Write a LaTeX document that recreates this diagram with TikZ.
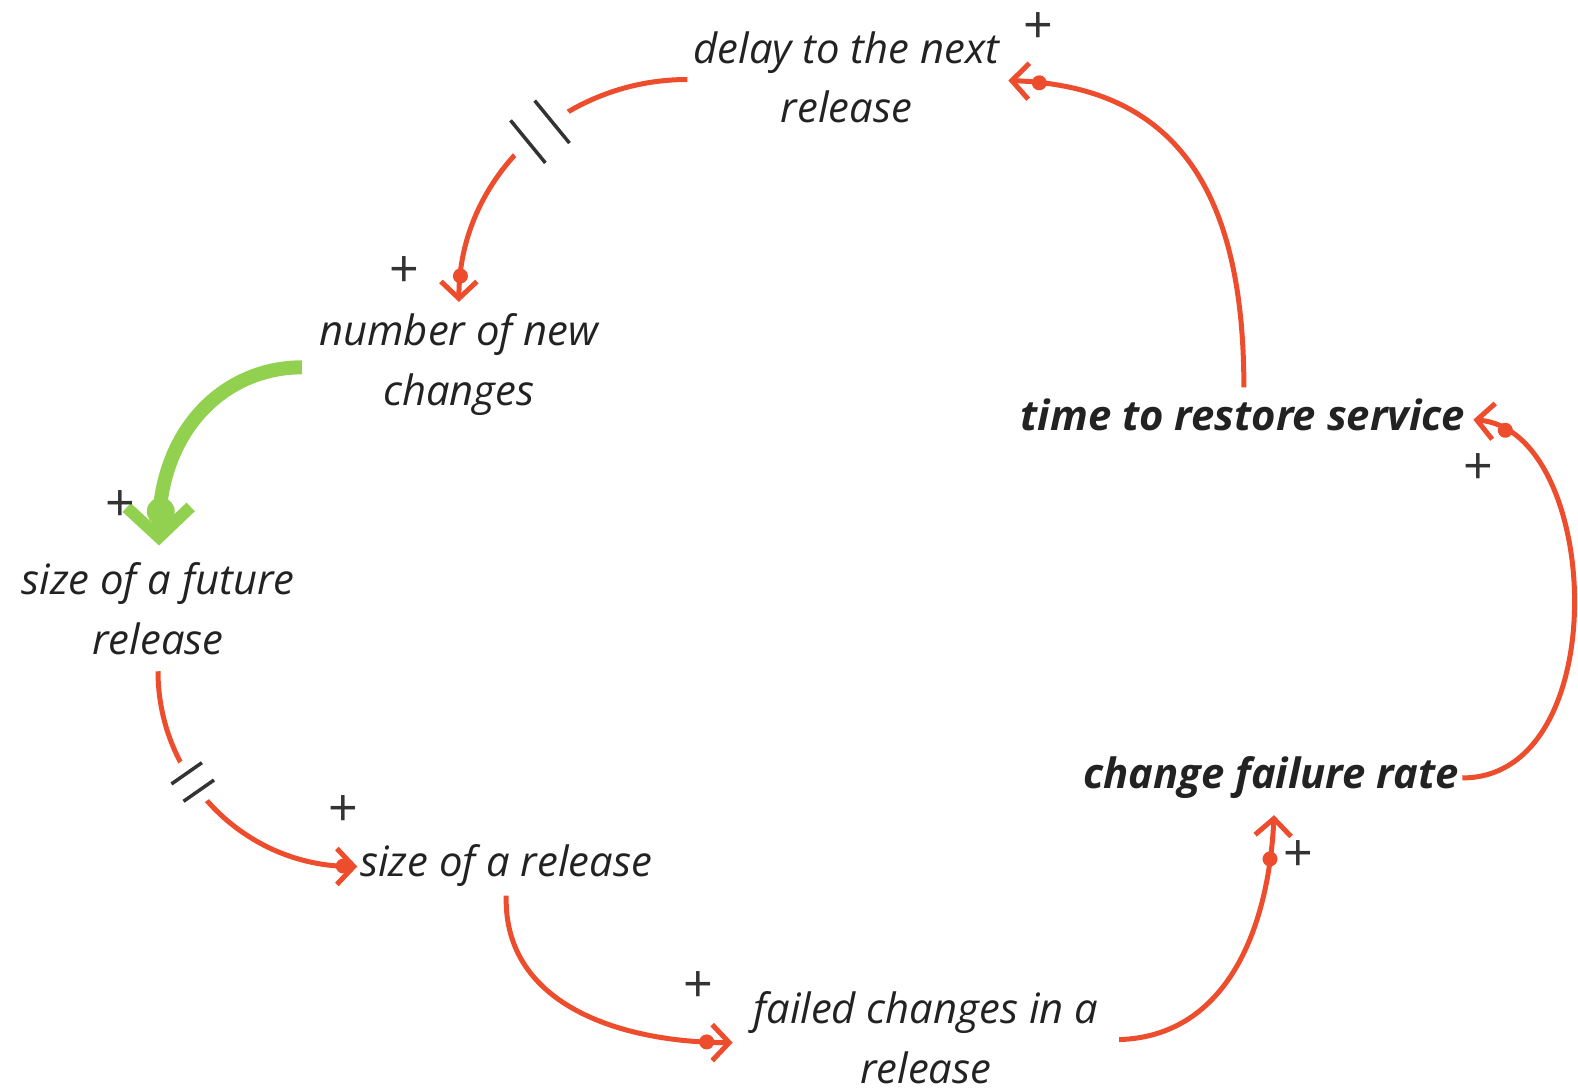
\documentclass[tikz,border=0pt]{standalone}
\usepackage{fontspec}
\setmainfont{Open Sans}
\usetikzlibrary{arrows.meta,decorations.markings}
\definecolor{linkred}{RGB}{238,77,45}
\definecolor{linkgreen}{RGB}{146,208,80}
\definecolor{ink}{RGB}{34,34,34}
\definecolor{signgrey}{RGB}{51,51,51}
\tikzset{
  var/.style={align=center, text=ink, inner sep=4pt,
    font=\fontsize{41.8}{59.5}\selectfont\itshape},
  keyvar/.style={var, font=\fontsize{41.8}{59.5}\selectfont\bfseries\itshape},
  sign/.style={text=signgrey, inner sep=0pt, font=\fontsize{52}{52}\selectfont},
  link/.style={draw=linkred, line width=5pt,
    -{Straight Barb[length=17pt,width=36pt,line width=5pt]},
    postaction={decorate, decoration={markings,
      mark=at position #1 with {\fill[linkred] (0,0) circle (7.5pt);}}}},
  link/.default={-26pt},
  strong/.style={draw=linkgreen, line width=14pt,
    -{Straight Barb[length=30pt,width=64pt,line width=12pt]},
    postaction={decorate, decoration={markings,
      mark=at position -34pt with {\fill[linkgreen] (0,0) circle (14pt);}}}},
  delaymark/.style 2 args={postaction={decorate, decoration={markings,
      mark=at position #1 with {
        \fill[white] (-#2*1.1,-7) rectangle (#2*1.1,7);
        \draw[-, signgrey, line width=3.5pt] (-#2/2,-#2*0.88) -- (-#2/2,#2*0.88);
        \draw[-, signgrey, line width=3.5pt] (#2/2,-#2*0.88) -- (#2/2,#2*0.88);}}}}
}
\begin{document}
\begin{tikzpicture}[x=1.0064pt,y=-1.0064pt]
\useasboundingbox[fill=white] (0,0) rectangle (1568,1084);

% variables
\node[var] (delay)   at (841,77)  {delay to the next\\release};
\node[var] (newch)   at (456,362) {number of new\\changes};
\node[var] (future)  at (157,605) {size of a future\\release};
\node[var] (release) at (503,860) {size of a release};
\node[var] (failed)  at (920,1031) {failed changes in a\\release};
\node[keyvar] (cfr)  at (1263,773) {change failure rate};
\node[keyvar] (trs)  at (1235,412) {time to restore service};

% polarity signs
\node[sign] (p1) at (1032,28)  {+};
\node[sign] (p2) at (402,270)  {+};
\node[sign] (p4) at (341,806)  {+};
\node[sign] (p5) at (694,981)  {+};
\node[sign] (p6) at (1290,851) {+};
\node[sign] (p7) at (1469,466) {+};

% causal links
\draw[link, delaymark={0.45}{31}] ([shift={(-158,2)}]delay.center)
  .. controls (558,79) and (456,177) .. ([shift={(0,-62)}]newch.center);
\draw[strong] ([shift={(-156,3)}]newch.center)
  .. controls (221,365) and (157,430) .. ([shift={(1,-63)}]future.center);
\node[sign] (p3) at (120,503) {+};
\draw[link={-14pt}, delaymark={0.38}{21}] ([shift={(0,62)}]future.center)
  .. controls (157,774) and (244,861) .. ([shift={(-148,1)}]release.center);
\draw[link] ([shift={(0,30)}]release.center)
  .. controls (500,1000) and (620,1036) .. ([shift={(-192,5)}]failed.center);
\draw[link={-44pt}] ([shift={(192,2)}]failed.center)
  .. controls (1215,1030) and (1260,930) .. ([shift={(3,37)}]cfr.center);
\draw[link={-34pt}] ([shift={(190,0)}]cfr.center)
  .. controls (1606,773) and (1592,428) .. ([shift={(229,5)}]trs.center);
\draw[link={-31pt}] ([shift={(1,-27)}]trs.center)
  .. controls (1236,200) and (1176,86) .. ([shift={(161,3)}]delay.center);
\end{tikzpicture}
\end{document}
